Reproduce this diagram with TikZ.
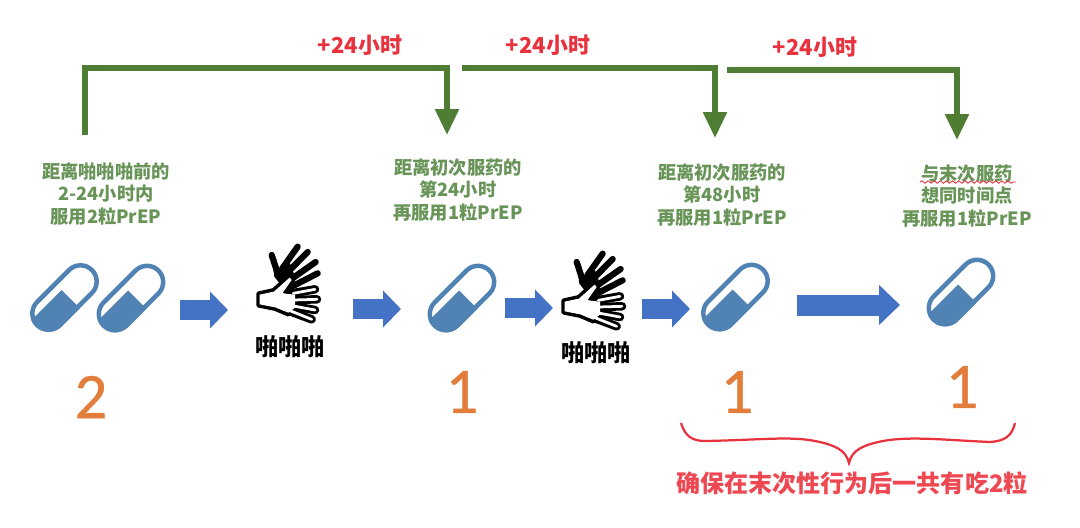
\documentclass[tikz,border=0pt]{standalone}
\usepackage{fontspec}
\setmainfont{Noto Sans CJK SC}
\newfontfamily\numfont[FakeBold=0.5]{Carlito}
\usetikzlibrary{arrows.meta,decorations.pathmorphing}
\definecolor{pillblue}{RGB}{80,130,180}
\definecolor{arrowblue}{RGB}{68,114,196}
\definecolor{linegreen}{RGB}{80,125,52}
\definecolor{textgreen}{RGB}{104,148,88}
\definecolor{notered}{RGB}{232,50,62}
\definecolor{sumred}{RGB}{238,72,82}
\definecolor{numorange}{RGB}{226,125,60}
\tikzset{
  steptext/.style={text=textgreen,align=center,inner sep=0pt,font=\bfseries\fontsize{10.4}{13}\selectfont},
  plustext/.style={text=notered,inner sep=0pt,font=\bfseries\fontsize{12.5}{15}\selectfont},
  claptext/.style={inner sep=0pt,font=\bfseries\fontsize{13.2}{16}\selectfont},
  numtext/.style={text=numorange,inner sep=0pt,font=\numfont\fontsize{37}{40}\selectfont},
  sumtext/.style={text=sumred,inner sep=0pt,font=\bfseries\fontsize{13.7}{16}\selectfont},
  greenarrow/.style={draw=linegreen,line width=0.11cm,-{Triangle[length=0.52cm,width=0.46cm]}},
  bluearrow/.style={draw=arrowblue,line width=0.4cm,-{Triangle[length=0.36cm,width=0.72cm]}},
  longarrow/.style={draw=arrowblue,line width=0.42cm,-{Triangle[length=0.42cm,width=0.78cm]}},
  pics/pill/.style={code={
    \begin{scope}[rotate=45]
      \clip[rounded corners=0.369cm] (-41,-18.5) rectangle (41,18.5);
      \fill[pillblue] (-45,-7.3) rectangle (3.3,22);
    \end{scope}
    \draw[rotate=45,draw=pillblue,line width=0.09cm,rounded corners=0.324cm] (-38.8,-16.2) rectangle (38.8,16.2);
  }},
  pics/hand/.style={code={
    \begin{scope}[scale=1/3]
      \fill[black,line join=round] (82,60) -- (105,85) -- (135,70) -- (150,110) -- (125,150) -- (100,125) -- (88,110) -- cycle;
      \foreach \tipx/\tipy/\basex/\basey in {80/45/98/100,158/20/112/85,188/36/125/100,212/66/135/120,218/100/130/145}
        \draw[line width=0.125cm,line cap=round] (\tipx,\tipy) -- (\basex,\basey);
      \draw[line width=0.075cm,line join=round,fill=white] (40,160) -- (85,150) -- (135,105) -- (146,120) -- (118,155) -- (150,160) -- (150,205) -- (130,224) -- (90,207) -- (40,197) -- cycle;
      \foreach \tipx/\tipy/\basex/\basey in {210/148/140/160,216/178/140/180,210/210/140/198,200/238/130/212}
        \draw[line width=0.17cm,line cap=round] (\tipx,\tipy) -- (\basex,\basey);
      \fill[white] (44,164) -- (87,155) -- (134,113) -- (140,120) -- (112,160) -- (150,164) -- (150,203) -- (130,218) -- (91,202) -- (44,193) -- cycle;
      \foreach \tipx/\tipy/\basex/\basey in {210/148/145/160,216/178/145/180,210/210/145/198,200/238/135/212}
        \draw[white,line width=0.055cm,line cap=round] (\tipx,\tipy) -- (\basex,\basey);
    \end{scope}
  }}
}
\begin{document}
\begin{tikzpicture}[x=0.02cm,y=-0.02cm]
  \useasboundingbox (0,0) rectangle (1080,528);

  \node[plustext] (plusa) at (360,45) {+24小时};
  \node[plustext] (plusb) at (548,45) {+24小时};
  \node[plustext] (plusc) at (815,47) {+24小时};

  \node[steptext] (txta) at (106,194) {距离啪啪啪前的\\2-24小时内\\服用2粒PrEP};
  \node[steptext] (txtb) at (458,190) {距离初次服药的\\第24小时\\再服用1粒PrEP};
  \node[steptext] (txtc) at (722,195) {距离初次服药的\\第48小时\\再服用1粒PrEP};
  \node[steptext] (txtd) at (967,196) {与末次服药\\想同时间点\\再服用1粒PrEP};

  \coordinate (starta) at (85,135);
  \coordinate (tipa) at (447,135);
  \coordinate (startb) at (462,68);
  \coordinate (tipb) at (715,138);
  \coordinate (startc) at (727,70);
  \coordinate (tipc) at (957,140);
  \draw[greenarrow] (starta) -- (85,68) -| (tipa);
  \draw[greenarrow] (startb) -| (tipb);
  \draw[greenarrow] (startc) -| (tipc);

  \draw[notered,line width=0.5pt,decorate,decoration={snake,amplitude=0.7pt,segment length=3.5pt}] (920,182) -- (1016,182);

  \pic at (64.5,297.5) {pill};
  \pic at (131,298) {pill};
  \pic at (462,298) {pill};
  \pic at (735.5,297) {pill};
  \pic at (961,292) {pill};

  \pic at (245,240) {hand};
  \pic at (550,247) {hand};
  \node[claptext] (clapa) at (290,347) {啪啪啪};
  \node[claptext] (clapb) at (596,353) {啪啪啪};

  \coordinate (blueas) at (180,310);
  \coordinate (blueae) at (228,310);
  \coordinate (bluebs) at (353,309);
  \coordinate (bluebe) at (401,309);
  \coordinate (bluecs) at (505,308);
  \coordinate (bluece) at (553,308);
  \coordinate (blueds) at (642,309);
  \coordinate (bluede) at (690,309);
  \coordinate (blueES) at (797,305);
  \coordinate (blueEE) at (900,305);
  \draw[bluearrow] (blueas) -- (blueae);
  \draw[bluearrow] (bluebs) -- (bluebe);
  \draw[bluearrow] (bluecs) -- (bluece);
  \draw[bluearrow] (blueds) -- (bluede);
  \draw[longarrow] (blueES) -- (blueEE);

  \node[numtext] (numa) at (91,397) {2};
  \node[numtext] (numb) at (462,392) {1};
  \node[numtext] (numc) at (737,392) {1};
  \node[numtext] (numd) at (962,387) {1};

  \draw[notered,line width=0.045cm] (681,423) .. controls (685,436) and (692,441) .. (705,441)
    .. controls (760,440) and (790,436) .. (815,441) .. controls (835,445) and (846,450) .. (849,463)
    .. controls (852,450) and (863,445) .. (883,441) .. controls (910,436) and (945,440) .. (990,442)
    .. controls (1005,441) and (1012,436) .. (1015,423);
  \node[sumtext] (sumtxt) at (852,483) {确保在末次性行为后一共有吃2粒};
\end{tikzpicture}
\end{document}
